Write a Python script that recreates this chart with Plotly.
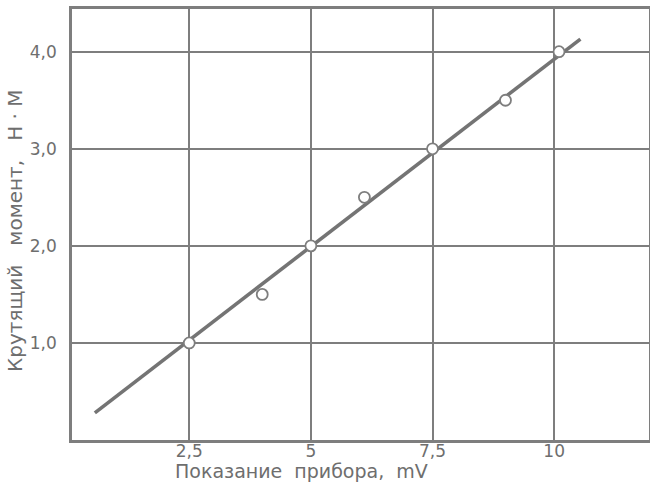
import plotly.graph_objects as go

# Measured points (instrument reading, mV -> torque, N·m)
reading_mv = [2.5, 4.0, 5.0, 6.1, 7.5, 9.0, 10.1]
torque_nm = [1.0, 1.5, 2.0, 2.5, 3.0, 3.5, 4.0]

# Calibration (fit) line end points
fit_x = [0.56, 10.54]
fit_y = [0.28, 4.13]

x_tickvals = [2.5, 5, 7.5, 10]
x_ticktext = ["2,5", "5", "7,5", "10"]
y_tickvals = [1.0, 2.0, 3.0, 4.0]
y_ticktext = ["1,0", "2,0", "3,0", "4,0"]

x_title = "Показание\u00a0\u00a0прибора,\u00a0\u00a0mV"
y_title = "Крутящий\u00a0\u00a0\u00a0момент,\u00a0\u00a0\u00a0Н\u00a0·\u00a0М"

INK = "#7e7e7e"
LINE = "#747474"
TXT = "#6e6e6e"
FONT = "DejaVu Sans"

W, H = 650, 501
L, T, B, R = 72, 9, 61, 1
PW, PH = W - L - R, H - T - B

fig = go.Figure()
fig.add_trace(go.Scatter(
    x=fit_x, y=fit_y, mode="lines",
    line=dict(color=LINE, width=3.6),
    showlegend=False, hoverinfo="skip",
))
fig.add_trace(go.Scatter(
    x=reading_mv, y=torque_nm, mode="markers",
    marker=dict(symbol="circle", size=11, color="white",
                line=dict(color=INK, width=1.8)),
    showlegend=False,
))

fig.update_layout(
    width=W, height=H,
    margin=dict(l=L, r=R, t=T, b=B, autoexpand=False),
    paper_bgcolor="white", plot_bgcolor="white",
    font=dict(family=FONT, size=17, color=TXT),
    xaxis=dict(
        range=[0.09, 11.95], automargin=False,
        tickvals=x_tickvals, ticktext=x_ticktext,
        showgrid=True, gridcolor=INK, gridwidth=2,
        showline=True, linecolor=INK, linewidth=2.6, mirror=True,
        ticks="", zeroline=False, ticklabelstandoff=-6,
        tickfont=dict(family=FONT, size=17, color=TXT),
    ),
    yaxis=dict(
        range=[0, 4.44], automargin=False,
        tickvals=y_tickvals, ticktext=y_ticktext,
        showgrid=True, gridcolor=INK, gridwidth=2,
        showline=True, linecolor=INK, linewidth=2.6, mirror=True,
        ticks="", zeroline=False, ticklabelstandoff=9,
        tickfont=dict(family=FONT, size=17, color=TXT),
    ),
    annotations=[
        dict(text=x_title, xref="paper", yref="paper",
             x=(301 - L) / PW, y=(H - B - 471) / PH,
             xanchor="center", yanchor="middle", showarrow=False,
             font=dict(family=FONT, size=19, color=TXT)),
        dict(text=y_title, xref="paper", yref="paper", textangle=-90,
             x=(15 - L) / PW, y=(H - B - 231) / PH,
             xanchor="center", yanchor="middle", showarrow=False,
             font=dict(family=FONT, size=20, color=TXT)),
    ],
)

fig.write_html("out.html", config={"displayModeBar": False},
               post_script="document.body.style.margin='0';")
